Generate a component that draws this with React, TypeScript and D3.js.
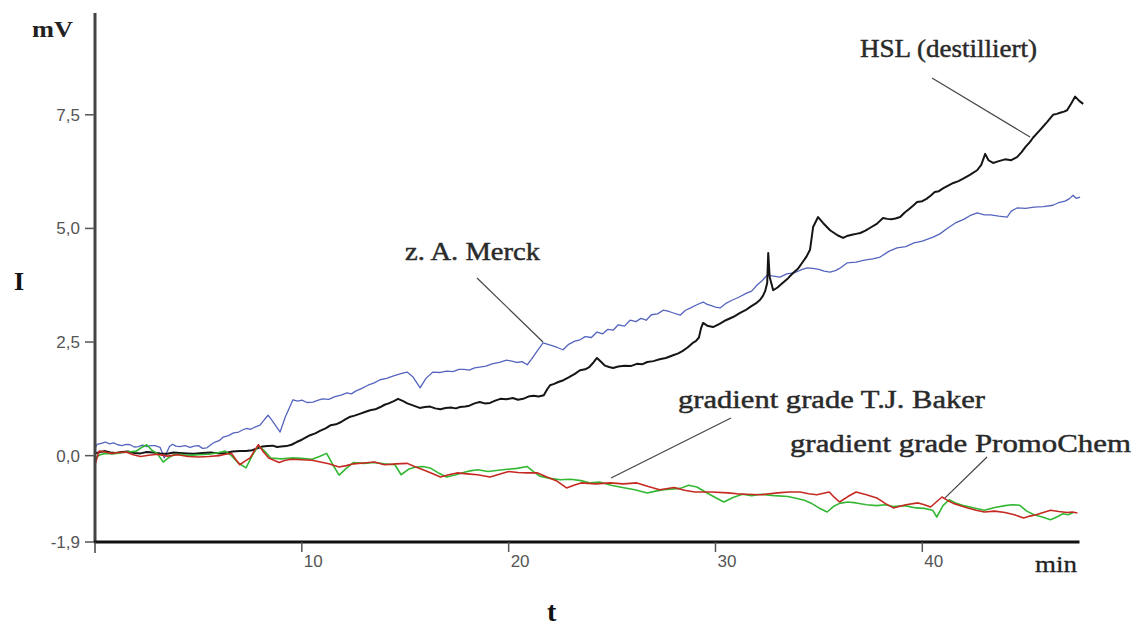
import React from "react";
import * as d3 from "d3";

type Pt = [number, number];

const yTickValues = [7.5, 5.0, 2.5, 0.0, -1.9];
const yTickLabels = ["7,5", "5,0", "2,5", "0,0", "-1,9"];
const xTickValues = [10, 20, 30, 40];
const xTickLabels = ["10", "20", "30", "40"];

const hsl: Pt[] = [
  [0,0.05],[0.25,0.08],[0.5,0.1],[0.75,0.07],[1,0.06],[1.3,0.08],[1.6,0.09],[1.9,0.06],[2.2,0.05],[2.5,0.08],[2.8,0.07],[3.15,0.05],[3.5,0.04],[3.8,0.07],[4.1,0.06],[4.45,0.05],[4.8,0.04],[5.2,0.06],[5.6,0.07],[5.95,0.05],[6.3,0.06],[6.65,0.09],[7.0,0.1],[7.3,0.1],[7.6,0.12],[7.85,0.16],[8.1,0.2],[8.35,0.21],[8.6,0.22],[8.8,0.19],[9.0,0.2],[9.25,0.21],[9.5,0.24],[9.75,0.3],[10.0,0.35],[10.2,0.4],[10.4,0.45],[10.65,0.49],[10.9,0.55],[11.15,0.6],[11.4,0.67],[11.65,0.69],[11.9,0.74],[12.1,0.8],[12.3,0.85],[12.55,0.88],[12.8,0.92],[13.05,0.96],[13.3,1.0],[13.55,1.02],[13.8,1.07],[14.0,1.12],[14.2,1.15],[14.45,1.2],[14.65,1.25],[14.9,1.2],[15.1,1.15],[15.4,1.1],[15.7,1.05],[15.95,1.07],[16.2,1.08],[16.45,1.04],[16.7,1.02],[16.95,1.05],[17.2,1.06],[17.45,1.04],[17.65,1.07],[17.9,1.08],[18.1,1.1],[18.35,1.15],[18.6,1.18],[18.85,1.15],[19.1,1.16],[19.35,1.21],[19.6,1.25],[19.9,1.24],[20.2,1.27],[20.45,1.23],[20.7,1.25],[20.95,1.3],[21.2,1.32],[21.45,1.3],[21.7,1.33],[21.85,1.45],[22.0,1.55],[22.2,1.58],[22.4,1.62],[22.65,1.66],[22.9,1.72],[23.2,1.8],[23.45,1.88],[23.7,1.9],[23.9,1.95],[24.1,2.05],[24.27,2.15],[24.45,2.07],[24.66,1.98],[24.85,1.95],[25.05,1.93],[25.3,1.96],[25.6,1.98],[25.9,1.97],[26.2,2.02],[26.45,2.01],[26.7,2.06],[27.0,2.08],[27.3,2.12],[27.6,2.15],[27.95,2.21],[28.2,2.25],[28.4,2.3],[28.65,2.38],[28.9,2.48],[29.05,2.52],[29.2,2.6],[29.3,2.8],[29.4,2.92],[29.6,2.86],[29.88,2.83],[30.2,2.9],[30.5,2.98],[30.85,3.05],[31.19,3.14],[31.45,3.2],[31.7,3.28],[31.95,3.35],[32.16,3.43],[32.3,3.52],[32.4,3.62],[32.5,3.8],[32.55,4.46],[32.62,3.93],[32.79,3.64],[33.0,3.7],[33.2,3.78],[33.5,3.9],[33.75,4.02],[34.0,4.12],[34.2,4.25],[34.4,4.38],[34.57,4.53],[34.72,5.03],[34.96,5.25],[35.2,5.12],[35.54,4.96],[35.9,4.85],[36.17,4.79],[36.4,4.84],[36.6,4.86],[36.8,4.88],[37.0,4.9],[37.25,4.95],[37.5,5.02],[37.8,5.1],[38.1,5.23],[38.3,5.21],[38.5,5.2],[38.7,5.22],[38.93,5.25],[39.15,5.35],[39.35,5.42],[39.55,5.5],[39.75,5.58],[40.0,5.6],[40.2,5.65],[40.4,5.72],[40.6,5.8],[40.8,5.82],[41.0,5.88],[41.25,5.94],[41.5,6.0],[41.75,6.04],[42.0,6.1],[42.3,6.18],[42.65,6.28],[42.85,6.4],[43.04,6.64],[43.2,6.5],[43.42,6.44],[43.7,6.48],[44.0,6.52],[44.3,6.5],[44.58,6.57],[44.8,6.68],[45.0,6.8],[45.2,6.9],[45.36,7.0],[45.6,7.12],[45.8,7.22],[46.05,7.35],[46.32,7.5],[46.5,7.52],[46.7,7.55],[46.85,7.57],[47.0,7.6],[47.2,7.75],[47.39,7.9],[47.6,7.8],[47.78,7.74],
];

const merck: Pt[] = [
  [0,0.15],[0.1,0.25],[0.3,0.27],[0.5,0.3],[0.7,0.26],[0.9,0.28],[1.1,0.24],[1.3,0.22],[1.5,0.25],[1.7,0.24],[1.9,0.19],[2.1,0.2],[2.3,0.23],[2.5,0.2],[2.7,0.22],[2.9,0.22],[3.15,0.18],[3.35,-0.05],[3.6,0.2],[3.75,0.25],[3.9,0.21],[4.1,0.2],[4.35,0.22],[4.6,0.18],[4.8,0.21],[5.0,0.22],[5.2,0.16],[5.4,0.17],[5.6,0.24],[5.8,0.3],[6.0,0.33],[6.2,0.41],[6.45,0.44],[6.7,0.5],[6.95,0.52],[7.15,0.57],[7.35,0.6],[7.5,0.58],[7.7,0.62],[7.98,0.67],[8.2,0.8],[8.37,0.89],[8.6,0.75],[8.95,0.52],[9.2,0.85],[9.57,1.23],[9.8,1.2],[10.0,1.22],[10.25,1.17],[10.54,1.18],[10.8,1.22],[11.0,1.25],[11.3,1.24],[11.6,1.3],[11.9,1.33],[12.18,1.38],[12.4,1.36],[12.6,1.42],[12.9,1.48],[13.2,1.55],[13.5,1.6],[13.78,1.67],[14.1,1.7],[14.4,1.75],[14.75,1.8],[15.09,1.84],[15.38,1.73],[15.72,1.49],[16.0,1.7],[16.34,1.84],[16.7,1.83],[17.0,1.86],[17.3,1.85],[17.6,1.9],[17.85,1.9],[18.1,1.88],[18.35,1.93],[18.6,1.95],[18.9,1.97],[19.2,2.02],[19.55,2.05],[19.9,2.1],[20.15,2.08],[20.4,2.05],[20.65,2.07],[20.9,2.0],[21.1,2.12],[21.3,2.25],[21.66,2.48],[21.9,2.45],[22.1,2.42],[22.35,2.38],[22.63,2.33],[22.9,2.45],[23.2,2.52],[23.45,2.55],[23.7,2.62],[24.0,2.6],[24.27,2.72],[24.55,2.68],[24.8,2.78],[25.05,2.76],[25.3,2.88],[25.6,2.85],[25.87,2.98],[26.15,2.95],[26.4,3.02],[26.65,2.98],[26.9,3.1],[27.2,3.12],[27.47,3.2],[27.7,3.18],[27.9,3.15],[28.29,3.09],[28.55,3.2],[28.8,3.25],[29.1,3.32],[29.4,3.38],[29.6,3.33],[29.8,3.3],[30.0,3.27],[30.22,3.25],[30.5,3.35],[30.8,3.42],[31.1,3.48],[31.53,3.58],[31.75,3.62],[32.0,3.75],[32.25,3.85],[32.5,3.97],[32.8,3.95],[33.12,3.93],[33.45,4.0],[33.8,4.02],[34.1,4.08],[34.43,4.13],[34.7,4.12],[35.0,4.1],[35.25,4.06],[35.54,4.04],[35.8,4.07],[36.0,4.12],[36.36,4.24],[36.8,4.26],[37.2,4.3],[37.6,4.33],[37.96,4.37],[38.4,4.5],[38.78,4.57],[39.2,4.6],[39.6,4.68],[40.0,4.72],[40.52,4.81],[40.85,4.88],[41.2,5.0],[41.6,5.12],[42.0,5.2],[42.3,5.28],[42.65,5.34],[43.0,5.3],[43.3,5.3],[43.7,5.27],[44.1,5.25],[44.3,5.38],[44.58,5.45],[45.0,5.44],[45.4,5.47],[45.85,5.48],[46.32,5.51],[46.6,5.57],[46.9,5.6],[47.1,5.65],[47.29,5.73],[47.45,5.66],[47.63,5.69],
];

const baker: Pt[] = [
  [0,-0.05],[0.25,0.02],[0.5,0.05],[0.85,0.04],[1.2,0.06],[1.6,0.08],[2.0,0.1],[2.25,0.18],[2.5,0.24],[2.75,0.12],[3.0,0.05],[3.3,-0.14],[3.55,-0.05],[3.8,0.02],[4.15,0.03],[4.5,0.0],[5.0,0.02],[5.5,0.03],[5.9,0.06],[6.3,0.1],[6.6,0.0],[6.9,-0.15],[7.3,-0.27],[7.6,0.0],[7.9,0.22],[8.2,0.1],[8.5,-0.05],[9.0,-0.07],[9.5,-0.05],[10.0,-0.06],[10.5,-0.08],[10.85,-0.02],[11.2,0.05],[11.5,-0.2],[11.8,-0.43],[12.15,-0.28],[12.5,-0.15],[13.0,-0.17],[13.5,-0.15],[14.0,-0.18],[14.5,-0.2],[14.8,-0.42],[15.15,-0.3],[15.5,-0.25],[15.85,-0.24],[16.2,-0.27],[16.6,-0.38],[17.0,-0.47],[17.45,-0.42],[17.9,-0.36],[18.2,-0.33],[18.5,-0.31],[19.0,-0.35],[19.5,-0.32],[19.95,-0.3],[20.4,-0.28],[20.9,-0.24],[21.2,-0.35],[21.5,-0.45],[22.0,-0.5],[22.5,-0.53],[23.0,-0.52],[23.5,-0.55],[23.95,-0.6],[24.4,-0.58],[24.95,-0.65],[25.5,-0.7],[26.1,-0.75],[26.7,-0.82],[27.1,-0.78],[27.5,-0.75],[28.3,-0.72],[28.7,-0.65],[29.1,-0.69],[29.7,-0.85],[30.4,-1.02],[30.85,-0.92],[31.3,-0.85],[31.75,-0.88],[32.2,-0.85],[32.85,-0.88],[33.5,-0.9],[34.0,-0.95],[34.3,-0.98],[34.6,-1.04],[35.0,-1.15],[35.4,-1.24],[35.7,-1.12],[36.0,-1.05],[36.4,-1.02],[36.8,-1.04],[37.3,-1.08],[37.8,-1.1],[38.2,-1.08],[38.6,-1.12],[39.15,-1.1],[39.7,-1.15],[40.1,-1.16],[40.5,-1.2],[40.7,-1.35],[41.0,-1.1],[41.3,-0.97],[41.65,-1.05],[42.0,-1.1],[42.5,-1.15],[43.0,-1.2],[43.5,-1.14],[44.0,-1.1],[44.35,-1.08],[44.7,-1.09],[45.05,-1.22],[45.4,-1.3],[45.8,-1.35],[46.2,-1.41],[46.5,-1.35],[46.8,-1.28],[47.05,-1.3],[47.3,-1.25],
];

const promochem: Pt[] = [
  [0,-0.2],[0.2,0.1],[0.5,0.08],[0.8,0.05],[1.15,0.07],[1.5,0.08],[1.85,0.02],[2.2,-0.02],[2.6,0.01],[3.0,0.03],[3.5,-0.01],[4.0,0.02],[4.5,-0.02],[5.0,-0.03],[5.5,-0.02],[6.0,0.0],[6.3,0.03],[6.6,0.05],[6.8,-0.08],[7.0,-0.2],[7.25,-0.12],[7.5,-0.05],[7.7,0.1],[7.9,0.24],[8.15,0.08],[8.4,-0.05],[8.65,-0.1],[8.9,-0.15],[9.2,-0.1],[9.5,-0.08],[10.0,-0.09],[10.5,-0.1],[10.9,-0.14],[11.3,-0.18],[11.8,-0.25],[12.15,-0.22],[12.5,-0.18],[13.0,-0.16],[13.5,-0.14],[14.0,-0.2],[14.55,-0.18],[15.1,-0.17],[15.45,-0.24],[15.8,-0.3],[16.25,-0.38],[16.7,-0.47],[17.1,-0.42],[17.5,-0.38],[18.0,-0.4],[18.5,-0.42],[19.1,-0.47],[19.55,-0.41],[20.0,-0.35],[20.45,-0.37],[20.9,-0.38],[21.4,-0.38],[21.85,-0.47],[22.3,-0.55],[22.8,-0.71],[23.15,-0.65],[23.5,-0.6],[24.2,-0.62],[24.9,-0.6],[25.55,-0.62],[26.2,-0.6],[26.75,-0.68],[27.3,-0.75],[28.0,-0.7],[28.5,-0.76],[29.0,-0.8],[29.8,-0.8],[30.6,-0.82],[31.05,-0.84],[31.5,-0.85],[32.2,-0.86],[32.6,-0.84],[33.0,-0.82],[33.55,-0.8],[34.1,-0.8],[34.5,-0.84],[34.9,-0.86],[35.5,-0.8],[35.75,-0.92],[36.0,-1.02],[36.4,-0.9],[36.8,-0.8],[37.3,-0.86],[37.8,-0.93],[38.2,-1.05],[38.6,-1.15],[39.2,-1.08],[39.8,-1.04],[40.1,-1.08],[40.4,-1.13],[40.95,-0.91],[41.2,-0.98],[41.5,-1.05],[41.85,-1.1],[42.2,-1.15],[42.6,-1.2],[43.0,-1.24],[43.5,-1.22],[44.0,-1.25],[44.45,-1.3],[44.9,-1.37],[45.2,-1.33],[45.5,-1.3],[45.85,-1.25],[46.2,-1.2],[46.6,-1.23],[47.0,-1.25],[47.25,-1.24],[47.5,-1.26],
];

const annotations = [
  { text: "HSL (destilliert)", tx: 36.99, tv: 8.77, w: 177, from: [40.47, 8.31] as Pt, to: [45.21, 7.01] as Pt },
  { text: "z. A. Merck", tx: 14.99, tv: 4.31, w: 135, from: [18.47, 3.91] as Pt, to: [21.66, 2.5] as Pt },
  { text: "gradient grade T.J. Baker", tx: 28.19, tv: 1.05, w: 307, from: [30.75, 0.83] as Pt, to: [24.95, -0.49] as Pt },
  { text: "gradient grade PromoChem", tx: 33.6, tv: 0.08, w: 341, from: [43.13, -0.03] as Pt, to: [41.1, -0.93] as Pt },
];

export default function App() {
  const W = 1140;
  const H = 626;
  const x = d3.scaleLinear().domain([0, 47.6]).range([95, 1079.5]);
  const y = d3.scaleLinear().domain([-1.9, 9.74]).range([542, 13]);
  const line = d3.line<Pt>().x((d) => x(d[0])).y((d) => y(d[1]));
  const serif = "'Liberation Serif', 'Times New Roman', serif";
  const sans = "'Liberation Sans', Arial, sans-serif";
  const series = [
    { data: merck, color: "#5565bd", w: 1.3 },
    { data: hsl, color: "#151515", w: 2 },
    { data: baker, color: "#33b833", w: 1.6 },
    { data: promochem, color: "#c42a22", w: 1.6 },
  ];
  return (
    <svg width={W} height={H} style={{ position: "absolute", left: 0, top: 0, display: "block", background: "#fff" }}>
      {series.map((s, i) => (
        <path key={i} d={line(s.data) || ""} fill="none" stroke={s.color} strokeWidth={s.w} strokeLinejoin="round" />
      ))}
      {/* y axis */}
      <line x1={x(0)} x2={x(0)} y1={y(9.74)} y2={y(-1.9) + 1} stroke="#444" strokeWidth={3} />
      {yTickValues.map((v, i) => (
        <g key={i}>
          <line x1={x(0) - 10} x2={x(0)} y1={y(v)} y2={y(v)} stroke="#555" strokeWidth={1.5} />
          <text x={80} y={y(v) + 6} textAnchor="end" fontFamily={sans} fontSize={17} fill="#555">
            {yTickLabels[i]}
          </text>
        </g>
      ))}
      {/* x axis */}
      <line x1={x(0) - 1} x2={x(47.6)} y1={y(-1.9)} y2={y(-1.9)} stroke="#111" strokeWidth={3} />
      <line x1={x(0)} x2={x(0)} y1={y(-1.9)} y2={y(-1.9) + 11} stroke="#444" strokeWidth={1.5} />
      {xTickValues.map((t, i) => (
        <g key={i}>
          <line x1={x(t)} x2={x(t)} y1={y(-1.9)} y2={y(-1.9) + 10} stroke="#555" strokeWidth={1.5} />
          <text x={x(t) + 2} y={y(-1.9) + 25} fontFamily={sans} fontSize={17} fill="#555">
            {xTickLabels[i]}
          </text>
        </g>
      ))}
      {/* axis titles */}
      <text x={32} y={37} fontFamily={serif} fontWeight="bold" fontSize={24} fill="#222" textLength={41} lengthAdjust="spacingAndGlyphs">mV</text>
      <text x={14} y={290} fontFamily={serif} fontWeight="bold" fontSize={26} fill="#111">I</text>
      <text x={547} y={621} fontFamily={serif} fontWeight="bold" fontSize={28} fill="#111">t</text>
      <text x={1035} y={572} fontFamily={serif} fontSize={24} fill="#222" stroke="#222" strokeWidth={0.3} textLength={42} lengthAdjust="spacingAndGlyphs">min</text>
      {/* annotations */}
      {annotations.map((a, i) => (
        <g key={i}>
          <line x1={x(a.from[0])} y1={y(a.from[1])} x2={x(a.to[0])} y2={y(a.to[1])} stroke="#444" strokeWidth={1.2} />
          <text x={x(a.tx)} y={y(a.tv)} fontFamily={serif} fontSize={25} fill="#2a2a2a" stroke="#2a2a2a" strokeWidth={0.45} textLength={a.w} lengthAdjust="spacingAndGlyphs">
            {a.text}
          </text>
        </g>
      ))}
    </svg>
  );
}
